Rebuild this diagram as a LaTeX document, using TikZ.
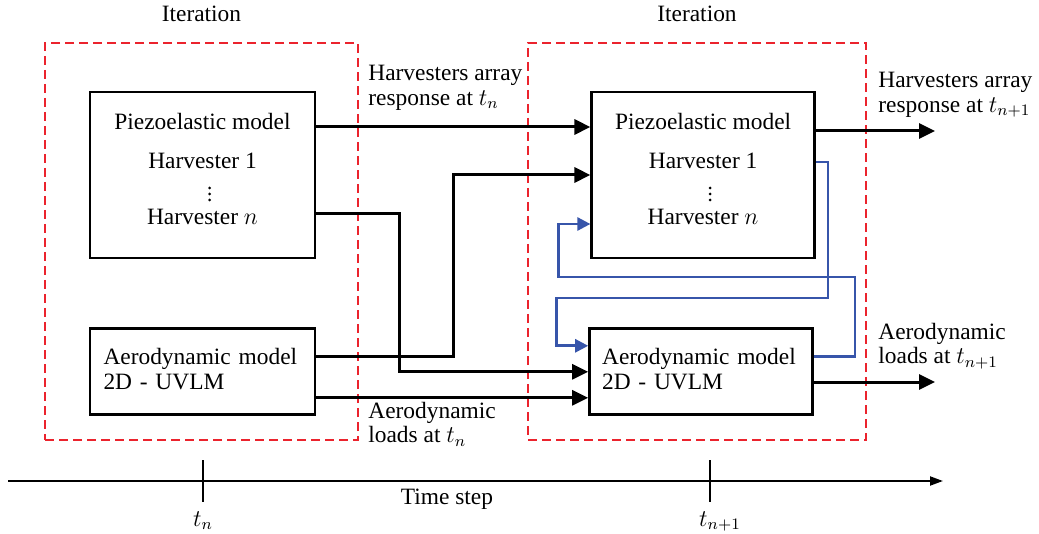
\documentclass[tikz,border=0pt]{standalone}
\usepackage{amsmath}
\usepackage{fontspec}
\setmainfont{Liberation Serif}
\usetikzlibrary{arrows.meta, positioning}

\definecolor{iterred}{RGB}{235,35,45}
\definecolor{loopblue}{RGB}{55,85,170}

\tikzstyle{Model} = [rectangle, draw, line width=1.4pt, minimum width=112.5pt,
                     minimum height=83pt, inner sep=0pt, align=center]
\tikzstyle{Aero} = [Model, minimum height=43pt, align=left, text width=99pt,
                    font=\fontsize{11.7}{12.7}\selectfont]
\tikzstyle{Frame} = [rectangle, draw=iterred, line width=1.2pt,
                     dash pattern=on 4.5pt off 2.5pt, minimum height=198.5pt]
\tikzstyle{Flow} = [line width=1.5pt, -{Triangle[length=8pt,width=7.5pt]}]
\tikzstyle{Loop} = [draw=loopblue, line width=1.3pt, -{Triangle[length=6.5pt,width=6.5pt]}]
\tikzstyle{Label} = [align=left, anchor=west, inner sep=2pt,
                     font=\fontsize{11.7}{12.2}\selectfont]
\tikzstyle{Tick} = [line width=0.7pt]

\begin{document}
\begin{tikzpicture}
    [x=0.5pt, y=-0.5pt, font=\fontsize{11.7}{14}\selectfont]
    \useasboundingbox (0,0) rectangle (1039,534);

    %% Iteration n
    \node [Model] (piezoA) at (202.5,175)
        {Piezoelastic model\\[5.5pt] Harvester 1\\[14pt]
         Harvester $n$\rule[-6pt]{0pt}{6pt}};
    \node [Aero, below=34pt of piezoA] (aeroA)
        {Aerodynamic model\\2D - UVLM\rule[-3pt]{0pt}{3pt}};
    \node [Frame, minimum width=156.5pt] (frameA) at (201.5,241.5) {};
    \node [above=6.5pt of frameA] (iterA) {Iteration};

    %% Iteration n+1
    \node [Model, minimum width=111.3pt, right=137pt of piezoA] (piezoB)
        {Piezoelastic model\\[5.5pt] Harvester 1\\[14pt]
         Harvester $n$\rule[-6pt]{0pt}{6pt}};
    \node [Aero, minimum width=111.5pt, below=34pt of piezoB, xshift=-1pt] (aeroB)
        {Aerodynamic model\\2D - UVLM\rule[-3pt]{0pt}{3pt}};
    \node [Frame, minimum width=169pt] (frameB) at (697,241.5) {};
    \node [above=6.5pt of frameB] (iterB) {Iteration};

    %% dots between harvester 1 and n
    \foreach \m in {piezoA,piezoB}
        \foreach \dy in {-6.5,-9.5,-12.5}
            \fill ([xshift=3.5pt,yshift=\dy pt]\m.center) circle (0.75pt);

    %% Labels
    \node [Label] (respA) at (364,88) {Harvesters array\\response at $t_n$};
    \node [Label] (loadA) at (364,424) {Aerodynamic\\loads at $t_n$};
    \node [Label] (respB) at (874,95) {Harvesters array\\response at $t_{n+1}$};
    \node [Label] (loadB) at (874,346) {Aerodynamic\\loads at $t_{n+1}$};

    %% Draw
    \coordinate (outP) at (935,131);
    \coordinate (outA) at (935,382);
    \draw [Flow] ([yshift=24pt]piezoA.east) -- ([yshift=24pt]piezoB.west);
    \draw [Flow] ([yshift=7.5pt]aeroA.east) -- ++(68.5pt,0) |- (piezoB.west);
    \draw [Flow] ([yshift=-19.5pt]piezoA.east) -- ++(41.5pt,0) |- (aeroB.west);
    \draw [Flow] ([yshift=-13pt]aeroA.east) -- ([yshift=-13pt]aeroB.west);
    \draw [Flow] (piezoB.east |- outP) -- (outP);
    \draw [Flow] (aeroB.east |- outA) -- (outA);

    %% Coupling inside the step
    \draw [Loop] ([yshift=6.5pt]piezoB.east) -| (828,298)
        -| ([xshift=-16pt,yshift=13pt]aeroB.west) -- ([yshift=13pt]aeroB.west);
    \draw [Loop] ([yshift=7.5pt]aeroB.east) -| (855,277)
        -| ([xshift=-16pt,yshift=-24.5pt]piezoB.west) -- ([yshift=-24.5pt]piezoB.west);

    %% Time axis
    \coordinate (tstart) at (8,481);
    \coordinate (tend) at (943,481);
    \coordinate (tn) at (203,481);
    \coordinate (tnext) at (710,481);
    \draw [line width=1pt, -{Triangle[length=6.5pt,width=4.5pt]}] (tstart) -- (tend);
    \draw [Tick] ([yshift=10.5pt]tn) -- ([yshift=-10.5pt]tn)
        node [below=1pt] (lbltn) {$t_n$};
    \draw [Tick] ([yshift=10.5pt]tnext) -- ([yshift=-10.5pt]tnext)
        node [below=1pt, xshift=5pt] (lbltnext) {$t_{n+1}$};
    \node (steplbl) at (447,499) {Time step};

\end{tikzpicture}
\end{document}
